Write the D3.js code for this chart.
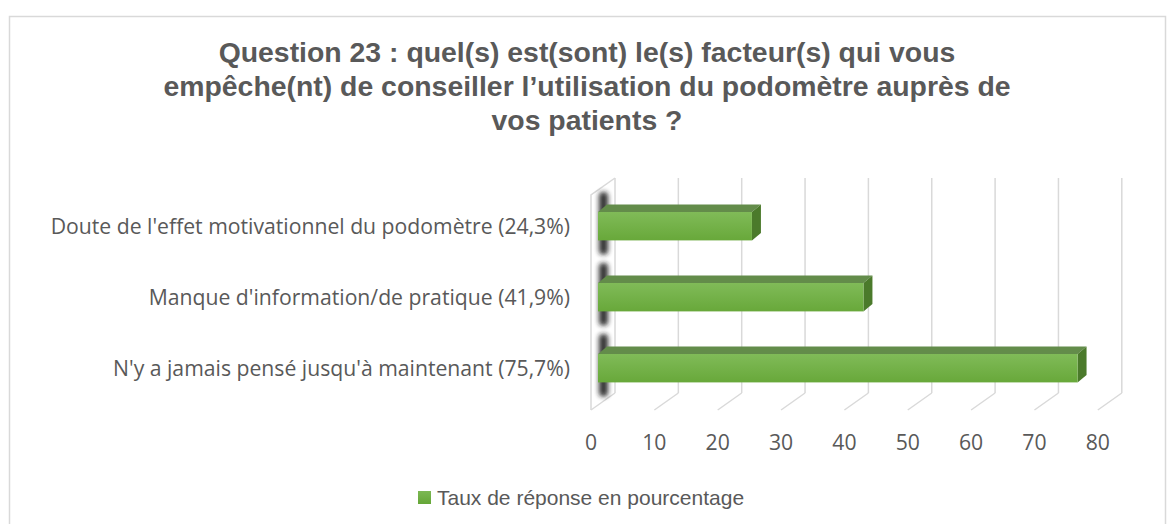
<!DOCTYPE html>
<html>
<head>
<meta charset="utf-8">
<script src="https://cdn.jsdelivr.net/npm/d3@7"></script>
<style>
  body { margin: 0; background: #fff; }
  svg { display: block; }
</style>
</head>
<body>
<svg id="chart" width="1175" height="524"></svg>
<script>
// Chart data
var titleLines = [
  "Question 23 : quel(s) est(sont) le(s) facteur(s) qui vous",
  "empêche(nt) de conseiller l’utilisation du podomètre auprès de",
  "vos patients ?"
];
var categories = [
  "Doute de l'effet motivationnel du podomètre (24,3%)",
  "Manque d'information/de pratique (41,9%)",
  "N'y a jamais pensé jusqu'à maintenant (75,7%)"
];
var values = [24.3, 41.9, 75.7];
var ticks = [0, 10, 20, 30, 40, 50, 60, 70, 80];
var seriesName = "Taux de réponse en pourcentage";

// Layout
var x0 = 591;          // front floor position of 0
var pxPer10 = 63.35;
var depthX = 24;       // wall / floor depth offset
var depthY = -17;
var floorY = 410;      // front floor line
var wallTop = 195;     // front top of wall
var barDx = 9;         // bar depth
var barDy = -7.5;
var barShift = 7;      // bar front face offset from front floor

var svg = d3.select('#chart');

var xScale = d3.scaleLinear()
               .domain([0, 80])
               .range([x0, x0 + pxPer10 * 8]);

var yScale = d3.scaleBand()
               .domain(categories)
               .range([176.5, 417.9])
               .paddingInner(0.6)
               .paddingOuter(0.5);

var defs = svg.append("defs");

var gFront = defs.append("linearGradient")
    .attr("id", "barFront")
    .attr("x1", 0).attr("y1", 0).attr("x2", 0).attr("y2", 1);
gFront.append("stop").attr("offset", "0%").attr("stop-color", "#80bb58");
gFront.append("stop").attr("offset", "100%").attr("stop-color", "#68a83a");

var gLegend = defs.append("linearGradient")
    .attr("id", "legendFill")
    .attr("x1", 0).attr("y1", 0).attr("x2", 0).attr("y2", 1);
gLegend.append("stop").attr("offset", "0%").attr("stop-color", "#7cb853");
gLegend.append("stop").attr("offset", "100%").attr("stop-color", "#65a637");

defs.append("filter")
    .attr("id", "blur")
    .attr("x", "-100%").attr("y", "-50%").attr("width", "300%").attr("height", "200%")
  .append("feGaussianBlur")
    .attr("stdDeviation", 2.4);

// Outer border
svg.append("rect")
   .attr("x", 9.5).attr("y", 16.5)
   .attr("width", 1156).attr("height", 520)
   .attr("fill", "none")
   .attr("stroke", "#d9d9d9")
   .attr("stroke-width", 1.5);

// Title
svg.append("text")
   .attr("text-anchor", "middle")
   .attr("font-family", "Liberation Sans, Arial, sans-serif")
   .attr("font-weight", "bold")
   .attr("font-size", "28.4px")
   .attr("fill", "#595959")
   .selectAll("tspan")
   .data(titleLines)
   .enter()
   .append("tspan")
   .attr("x", 587)
   .attr("y", (d, i) => 62 + i * 34)
   .text((d) => d);

var gridColor = "#d9d9d9";

// Back gridlines
svg.append("g")
   .selectAll("line")
   .data(ticks)
   .enter()
   .append("line")
   .attr("x1", (d) => xScale(d) + depthX)
   .attr("x2", (d) => xScale(d) + depthX)
   .attr("y1", wallTop + depthY)
   .attr("y2", floorY + depthY)
   .attr("stroke", gridColor)
   .attr("stroke-width", 1.5);

// Floor diagonals
svg.append("g")
   .selectAll("line")
   .data(ticks)
   .enter()
   .append("line")
   .attr("x1", (d) => xScale(d) + depthX)
   .attr("x2", (d) => xScale(d))
   .attr("y1", floorY + depthY)
   .attr("y2", floorY)
   .attr("stroke", gridColor)
   .attr("stroke-width", 1.5);

// Left wall front edge and top
svg.append("path")
   .attr("d", "M" + (xScale(0) + depthX) + "," + (wallTop + depthY) +
              "L" + xScale(0) + "," + wallTop +
              "L" + xScale(0) + "," + floorY)
   .attr("fill", "none")
   .attr("stroke", gridColor)
   .attr("stroke-width", 1.5);

// Bars
var bars = svg.append("g")
   .selectAll("g")
   .data(values)
   .enter()
   .append("g");

var bw = yScale.bandwidth();
function bx0() { return xScale(0) + barShift; }
function bx1(d) { return xScale(d) + barShift; }
function by(d, i) { return yScale(categories[i]); }

// shadow on the wall
bars.append("rect")
   .attr("x", bx0() + 1)
   .attr("y", (d, i) => by(d, i) - 20)
   .attr("width", 9)
   .attr("height", bw + 34)
   .attr("rx", 4)
   .attr("fill", "#1e1e1e")
   .attr("opacity", 0.9)
   .attr("filter", "url(#blur)");

// top face
bars.append("path")
   .attr("d", (d, i) => {
     var y = by(d, i);
     return "M" + bx0() + "," + y +
            "L" + (bx0() + barDx) + "," + (y + barDy) +
            "L" + (bx1(d) + barDx) + "," + (y + barDy) +
            "L" + bx1(d) + "," + y + "Z";
   })
   .attr("fill", "#638c4a");

// side face
bars.append("path")
   .attr("d", (d, i) => {
     var y = by(d, i);
     return "M" + bx1(d) + "," + y +
            "L" + (bx1(d) + barDx) + "," + (y + barDy) +
            "L" + (bx1(d) + barDx) + "," + (y + barDy + bw) +
            "L" + bx1(d) + "," + (y + bw) + "Z";
   })
   .attr("fill", "#4b7a2b");

// front face
bars.append("rect")
   .attr("x", bx0())
   .attr("y", (d, i) => by(d, i))
   .attr("width", (d) => bx1(d) - bx0())
   .attr("height", bw)
   .attr("fill", "url(#barFront)");

// Category labels
svg.append("g")
   .selectAll("text")
   .data(categories)
   .enter()
   .append("text")
   .attr("x", 570)
   .attr("y", (d) => yScale(d) + bw / 2)
   .attr("dy", "0.35em")
   .attr("text-anchor", "end")
   .attr("font-family", "Open Sans, sans-serif")
   .attr("font-size", "21.2px")
   .attr("fill", "#595959")
   .text((d) => d);

// Tick labels
svg.append("g")
   .selectAll("text")
   .data(ticks)
   .enter()
   .append("text")
   .attr("x", (d) => xScale(d))
   .attr("y", 443)
   .attr("dy", "0.35em")
   .attr("text-anchor", "middle")
   .attr("font-family", "Open Sans, sans-serif")
   .attr("font-size", "21.2px")
   .attr("fill", "#595959")
   .text((d) => d);

// Legend
svg.append("rect")
   .attr("x", 418).attr("y", 491)
   .attr("width", 13).attr("height", 13)
   .attr("fill", "url(#legendFill)");

svg.append("text")
   .attr("x", 437)
   .attr("y", 505)
   .attr("font-family", "Liberation Sans, Arial, sans-serif")
   .attr("font-size", "21px")
   .attr("fill", "#595959")
   .text(seriesName);
</script>
</body>
</html>
